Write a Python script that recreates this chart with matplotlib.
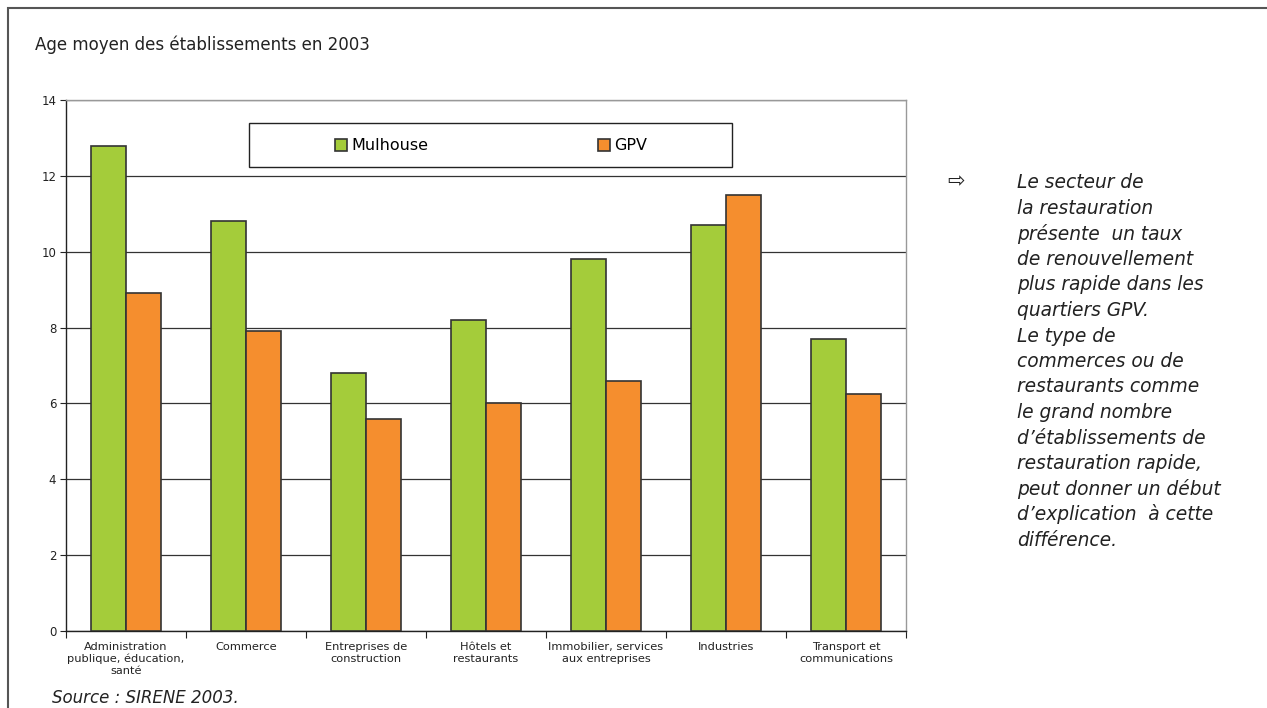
import matplotlib
matplotlib.use("Agg")
import matplotlib.pyplot as plt
import matplotlib.patches as mpatches
from matplotlib import font_manager
import numpy as np

categories = ["Administration\npublique, éducation,\nsanté", "Commerce",
              "Entreprises de\nconstruction", "Hôtels et\nrestaurants",
              "Immobilier, services\naux entreprises", "Industries",
              "Transport et\ncommunications"]
mulhouse = [12.8, 10.8, 6.8, 8.2, 9.8, 10.7, 7.7]
gpv = [8.9, 7.9, 5.6, 6.0, 6.6, 11.5, 6.25]
series_names = ["Mulhouse", "GPV"]
yticks = [0, 2, 4, 6, 8, 10, 12, 14]


def _w(f):
    w = f.weight
    if isinstance(w, str):
        w = font_manager.weight_dict.get(w, 400)
    return w


# pick a narrow, light font for the title if one is installed
cond = [f for f in font_manager.fontManager.ttflist
        if ("Condensed" in f.name or "Narrow" in f.name or f.stretch in ("condensed", "semi-condensed"))
        and f.style == "normal" and "bold" not in f.fname.lower().split("/")[-1]]
cond.sort(key=lambda f: abs(_w(f) - 350))
if cond:
    title_kw = dict(fontproperties=font_manager.FontProperties(fname=cond[0].fname, size=13.3))
else:
    title_kw = dict(family="Roboto", fontsize=13)

W, H = 1267, 708
fig = plt.figure(figsize=(W / 100, H / 100), dpi=100)

# outer frame
fig.patches.append(mpatches.Rectangle((8 / W, -0.05), 1.2, 1 - 8 / H + 0.05,
                                      transform=fig.transFigure, fill=False,
                                      edgecolor="#555555", linewidth=1.5))

ax = fig.add_axes([66 / W, 1 - 631 / H, 840 / W, 531 / H])
x = np.arange(len(categories))
bw = 0.29
b1 = ax.bar(x - bw / 2, mulhouse, bw, color="#A4CC3A", edgecolor="#333333",
            linewidth=1.2, zorder=3, label=series_names[0])
b2 = ax.bar(x + bw / 2, gpv, bw, color="#F58E2E", edgecolor="#333333",
            linewidth=1.2, zorder=3, label=series_names[1])

ax.set_xlim(-0.5, len(categories) - 0.5)
ax.set_ylim(0, 14)
ax.set_yticks(yticks)
ax.tick_params(axis="y", labelsize=8.5, length=4, direction="out", colors="#222222", pad=3)
ax.yaxis.grid(True, color="#333333", linewidth=0.9, zorder=0)
ax.set_axisbelow(True)

ax.set_xticks(np.arange(len(categories) + 1) - 0.5)
ax.set_xticklabels([])
ax.tick_params(axis="x", which="major", length=5, direction="out", color="#222222")
ax.set_xticks(x, minor=True)
ax.set_xticklabels(categories, minor=True, fontsize=8.2, color="#222222")
ax.tick_params(axis="x", which="minor", length=0, pad=8)

for s in ["left", "bottom"]:
    ax.spines[s].set_color("#222222")
    ax.spines[s].set_linewidth(1.0)
for s in ["top", "right"]:
    ax.spines[s].set_color("#999999")
    ax.spines[s].set_linewidth(1.0)

# legend box
fig.patches.append(mpatches.Rectangle((249 / W, 1 - 167 / H), 483 / W, 44 / H,
                                      transform=fig.transFigure, fill=True,
                                      facecolor="white", edgecolor="#222222",
                                      linewidth=1.0, zorder=5))
leg = fig.legend(handles=[b1, b2], labels=series_names, ncol=2, frameon=False,
                 loc="center", bbox_to_anchor=(491 / W, 1 - 146 / H),
                 fontsize=11.5, handlelength=0.8, handleheight=0.8,
                 handletextpad=0.25, columnspacing=10.6)
leg.set_zorder(6)

# title
fig.text(35 / W, 1 - 45 / H, "Age moyen des établissements en 2003",
         color="#222222", va="center", ha="left", **title_kw)

# side text
lines = ["Le secteur de", "la restauration", "présente  un taux",
         "de renouvellement", "plus rapide dans les", "quartiers GPV.",
         "Le type de", "commerces ou de", "restaurants comme",
         "le grand nombre", "d\u2019établissements de", "restauration rapide,",
         "peut donner un début", "d\u2019explication  à cette", "différence."]
fig.text(947 / W, 1 - 181 / H, "\u21E8", fontsize=15, color="#222222",
         va="center", ha="left")
for i, ln in enumerate(lines):
    fig.text(1017 / W, 1 - (183 + i * 25.5) / H, ln, fontsize=13.4,
             style="italic", color="#222222", va="center", ha="left")

fig.text(52 / W, 1 - 698 / H, "Source : SIRENE 2003.", fontsize=12,
         style="italic", color="#222222", va="center", ha="left")

fig.savefig("out.png", dpi=100)
